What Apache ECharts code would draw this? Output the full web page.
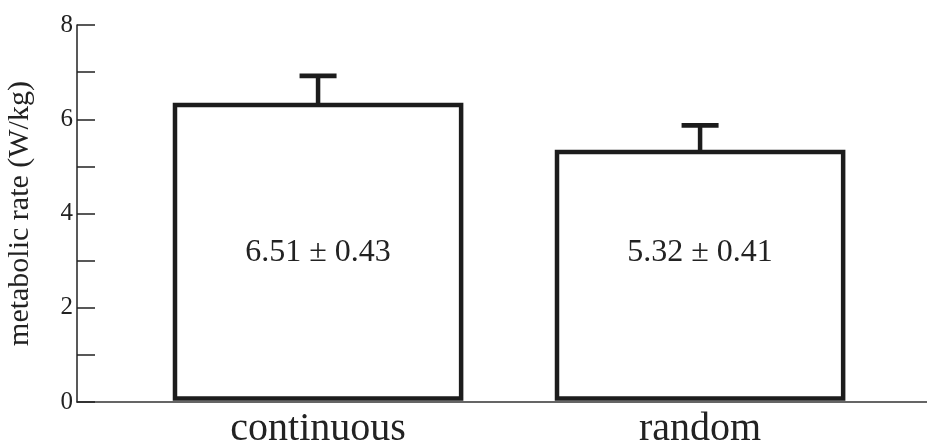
<!DOCTYPE html>
<html>
<head>
<meta charset="utf-8">
<script src="https://cdn.jsdelivr.net/npm/echarts@6/dist/echarts.min.js"></script>
<style>html,body{margin:0;padding:0;background:#fff;}#c{width:927px;height:445px;}</style>
</head>
<body>
<div id="c"></div>
<script>
const categories = ['continuous', 'random'];
const barValues = [6.30, 5.305];
const errorTops = [6.92, 5.87];
const barLabels = ['6.51 ± 0.43', '5.32 ± 0.41'];
const yTicks = [0, 2, 4, 6, 8];

const FONT = '"Liberation Serif", "DejaVu Serif", serif';
const INK = '#1c1c1c';
const HALF_W = 0.3745;   // half bar width in category units
const LABEL_Y = 3.16;    // vertical position of in-bar text (axis units)

const chart = echarts.init(document.getElementById('c'));
chart.setOption({
  animation: false,
  backgroundColor: '#fff',
  grid: { left: 77, right: 0, top: 25, bottom: 43, containLabel: false, outerBoundsMode: 'none' },
  xAxis: {
    type: 'value',
    min: -0.631,
    max: 1.594,
    splitLine: { show: false },
    axisLine: { show: true, onZero: false, lineStyle: { color: '#333', width: 1.5 } },
    axisTick: { show: false },
    axisLabel: {
      customValues: [0, 1],
      formatter: v => categories[Math.round(v)],
      fontFamily: FONT, fontSize: 40, color: '#222', margin: 7
    }
  },
  yAxis: {
    type: 'value',
    min: 0, max: 8, interval: 2,
    name: 'metabolic rate (W/kg)',
    nameLocation: 'middle',
    nameGap: 42,
    nameTextStyle: { fontFamily: FONT, fontSize: 30, color: '#222' },
    splitLine: { show: false },
    axisLine: { show: true, onZero: false, lineStyle: { color: '#222', width: 1.5 } },
    axisTick: { show: true, inside: true, length: 18, lineStyle: { color: '#222', width: 1.5 } },
    minorTick: { show: true, splitNumber: 2, length: 18, lineStyle: { color: '#222', width: 1.5 } },
    axisLabel: {
      fontFamily: FONT, fontSize: 25, color: '#222', margin: 4,
      customValues: yTicks
    }
  },
  series: [{
    type: 'custom',
    coordinateSystem: 'cartesian2d',
    data: categories.map((c, i) => [i, barValues[i], errorTops[i]]),
    encode: { x: 0, y: 1 },
    renderItem: function (params, api) {
      const i = api.value(0);
      const v = api.value(1);
      const e = api.value(2);
      const tl = api.coord([i - HALF_W, v]);
      const br = api.coord([i + HALF_W, 0]);
      const top = api.coord([i, v]);
      const eTop = api.coord([i, e]);
      const mid = api.coord([i, LABEL_Y]);
      const bottom = br[1] - 3.5;
      return {
        type: 'group',
        children: [
          { type: 'line', shape: { x1: top[0], y1: top[1], x2: eTop[0], y2: eTop[1] },
            style: { stroke: INK, lineWidth: 4.5 } },
          { type: 'line', shape: { x1: eTop[0] - 18.5, y1: eTop[1], x2: eTop[0] + 18.5, y2: eTop[1] },
            style: { stroke: INK, lineWidth: 4.7 } },
          { type: 'rect', shape: { x: tl[0], y: tl[1], width: br[0] - tl[0], height: bottom - tl[1] },
            style: { fill: '#fff', stroke: INK, lineWidth: 4.5, lineJoin: 'miter' } },
          { type: 'text', x: mid[0], y: mid[1],
            style: { text: barLabels[params.dataIndex], fill: '#222', font: '32px ' + FONT,
                     align: 'center', verticalAlign: 'middle' } }
        ]
      };
    }
  }]
});
</script>
</body>
</html>
